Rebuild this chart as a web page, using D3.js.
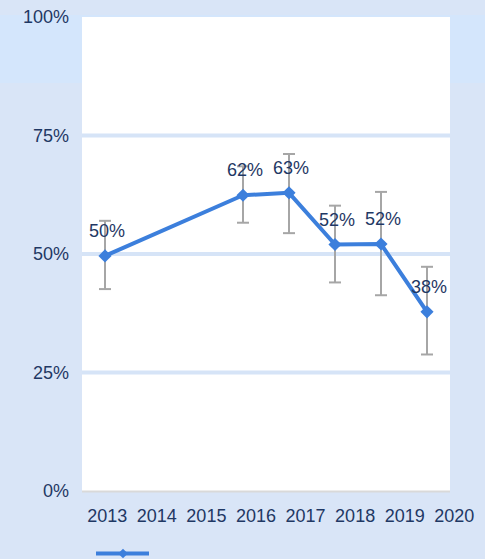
<!DOCTYPE html>
<html>
<head>
<meta charset="utf-8">
<script src="https://cdn.jsdelivr.net/npm/d3@7"></script>
<style>
  html, body { margin: 0; padding: 0; background: #ffffff; }
  text { font-family: "Liberation Sans", Arial, sans-serif; }
</style>
</head>
<body>
<script>
    // categories on the axis, and the series
    const years = ['2013', '2014', '2015', '2016', '2017', '2018', '2019', '2020'];
    const pointYears = ['2013', '2016', '2017', '2018', '2019', '2020'];
    const values = [0.496, 0.624, 0.629, 0.520, 0.521, 0.378];
    const errLow = [0.426, 0.566, 0.544, 0.440, 0.413, 0.288];
    const errHigh = [0.570, 0.685, 0.711, 0.602, 0.631, 0.473];
    const yTicks = [0, 0.25, 0.5, 0.75, 1];

    const size = { width: 492, height: 559 };
    const plot = { left: 82, right: 450, top: 17, bottom: 491 };
    const lineColor = '#3c7fdc';
    const textColor = '#1f3864';

    let svg = d3.select('body')
        .append('svg')
        .attr('width', size.width)
        .attr('height', size.height);

    // backgrounds
    svg.append('rect')
        .attr('width', 485).attr('height', size.height)
        .attr('fill', '#d9e5f7');
    svg.append('rect')
        .attr('y', 15).attr('width', 485).attr('height', 68)
        .attr('fill', '#d4e6fc');
    svg.append('rect')
        .attr('x', plot.left).attr('y', plot.top)
        .attr('width', plot.right - plot.left).attr('height', plot.bottom - plot.top)
        .attr('fill', '#ffffff');

    let x = d3.scaleBand()
        .domain(years)
        .range([plot.left, plot.right]);
    let xPos = d => x(d) + x.bandwidth() / 2;

    // the category labels sit a bit wider than the points
    let xLabel = d3.scalePoint()
        .domain(years)
        .range([106.7, 453.8]);

    let y = d3.scaleLinear()
        .domain([0, 1])
        .range([plot.bottom, plot.top]);

    // gridlines
    svg.append('g').selectAll('line')
        .data(yTicks.filter(d => d > 0 && d < 1))
        .enter()
        .append('line')
        .attr('x1', plot.left).attr('x2', plot.right)
        .attr('y1', d => y(d)).attr('y2', d => y(d))
        .attr('stroke', '#d6e4f7')
        .attr('stroke-width', 4);

    // baseline
    svg.append('line')
        .attr('x1', plot.left).attr('x2', plot.right)
        .attr('y1', plot.bottom + 0.5).attr('y2', plot.bottom + 0.5)
        .attr('stroke', '#d9d9d9')
        .attr('stroke-width', 2);

    // y axis
    let yAxis = svg.append('g')
        .attr('transform', 'translate(69,0)')
        .call(d3.axisLeft(y).tickValues(yTicks).tickFormat(d3.format('.0%')).tickSize(0).tickPadding(0));
    yAxis.select('.domain').remove();
    yAxis.selectAll('text')
        .attr('fill', textColor)
        .style('font-size', '18px')
        .attr('dy', '0.32em');

    // x axis
    let xAxis = svg.append('g')
        .attr('transform', 'translate(0,' + plot.bottom + ')')
        .call(d3.axisBottom(xLabel).tickSize(0).tickPadding(0));
    xAxis.select('.domain').remove();
    xAxis.selectAll('text')
        .attr('fill', textColor)
        .style('font-size', '18px')
        .attr('y', 31)
        .attr('dy', 0);

    let data = pointYears.map((d, i) => ({
        year: d, value: values[i], lo: errLow[i], hi: errHigh[i]
    }));

    // error bars
    let errs = svg.append('g')
        .attr('stroke', '#a6a6a6')
        .attr('stroke-width', 2);
    errs.selectAll('line.bar')
        .data(data).enter().append('line')
        .attr('class', 'bar')
        .attr('x1', d => xPos(d.year)).attr('x2', d => xPos(d.year))
        .attr('y1', d => y(d.lo)).attr('y2', d => y(d.hi));
    errs.selectAll('line.capHi')
        .data(data).enter().append('line')
        .attr('class', 'capHi')
        .attr('x1', d => xPos(d.year) - 6).attr('x2', d => xPos(d.year) + 6)
        .attr('y1', d => y(d.hi)).attr('y2', d => y(d.hi));
    errs.selectAll('line.capLo')
        .data(data).enter().append('line')
        .attr('class', 'capLo')
        .attr('x1', d => xPos(d.year) - 6).attr('x2', d => xPos(d.year) + 6)
        .attr('y1', d => y(d.lo)).attr('y2', d => y(d.lo));

    // series line
    let line = d3.line()
        .x(d => xPos(d.year))
        .y(d => y(d.value));
    svg.append('path')
        .datum(data)
        .attr('d', line)
        .attr('fill', 'none')
        .attr('stroke', lineColor)
        .attr('stroke-width', 4)
        .attr('stroke-linejoin', 'round');

    // markers
    let diamond = d3.symbol().type(d3.symbolDiamond2).size(110);
    svg.append('g').selectAll('path')
        .data(data).enter().append('path')
        .attr('d', diamond)
        .attr('transform', d => 'translate(' + xPos(d.year) + ',' + y(d.value) + ')')
        .attr('fill', lineColor);

    // data labels
    svg.append('g').selectAll('text')
        .data(data).enter().append('text')
        .attr('x', d => xPos(d.year) + 2)
        .attr('y', d => y(d.value) - 19)
        .attr('text-anchor', 'middle')
        .attr('fill', textColor)
        .style('font-size', '18px')
        .text(d => d3.format('.0%')(d.value));

    // legend (series has no name)
    let legend = svg.append('g').attr('transform', 'translate(0,553.5)');
    legend.append('line')
        .attr('x1', 96).attr('x2', 149)
        .attr('stroke', lineColor)
        .attr('stroke-width', 4);
    legend.append('path')
        .attr('d', d3.symbol().type(d3.symbolDiamond2).size(60))
        .attr('transform', 'translate(123,0)')
        .attr('fill', lineColor);
</script>
</body>
</html>
